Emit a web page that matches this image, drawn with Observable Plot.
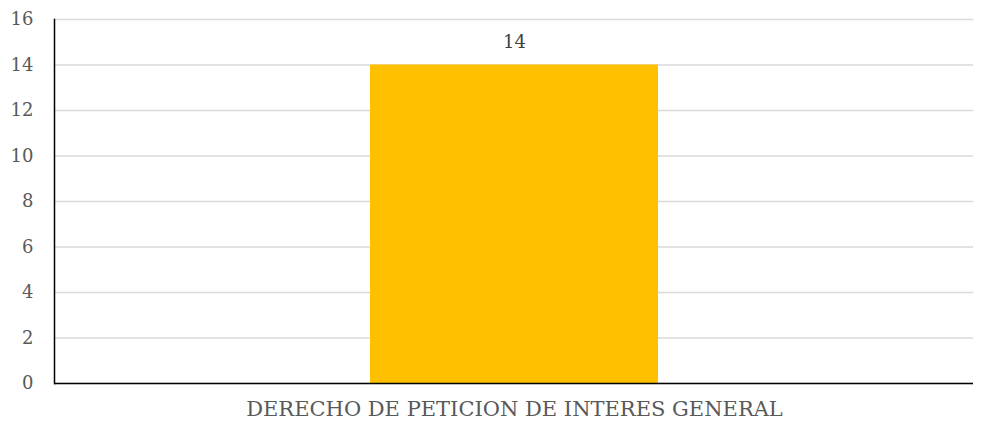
<!DOCTYPE html>
<html>
<head>
<meta charset="utf-8">
<script src="https://cdn.jsdelivr.net/npm/d3@7"></script>
<script src="https://cdn.jsdelivr.net/npm/@observablehq/plot@0.6"></script>
<style>
  html, body { margin: 0; padding: 0; background: #fff; }
  svg { display: block; }
  #chart svg, #chart svg text { font-family: "DejaVu Serif", "Liberation Serif", serif !important; }
</style>
</head>
<body>
<div id="chart"></div>
<script>
const categories = ["DERECHO DE PETICION DE INTERES GENERAL"];
const values = [14];
const yTicks = [0, 2, 4, 6, 8, 10, 12, 14, 16];

const data = categories.map((c, i) => ({category: c, value: values[i]}));

const chart = Plot.plot({
  width: 987,
  height: 426,
  marginLeft: 54,
  marginRight: 14,
  marginTop: 19,
  marginBottom: 43,
  style: {fontSize: "18px", color: "#595959", background: "#fff"},
  x: {domain: categories, padding: 0.5228, label: null},
  y: {domain: [0, 16], ticks: yTicks, label: null},
  marks: [
    Plot.gridY(yTicks, {stroke: "#d9d9d9", strokeOpacity: 1, strokeWidth: 1.5}),
    Plot.barY(data, {x: "category", y: "value", fill: "#ffc000"}),
    Plot.text(data, {x: "category", y: "value", text: d => String(d.value), dy: -23, fill: "#404040", fontSize: 18}),
    Plot.axisY(yTicks, {tickSize: 0, tickPadding: 21, fill: "#595959", fontSize: 18, label: null}),
    Plot.axisX({tickSize: 0, tickPadding: 18, fill: "#595959", fontSize: 21, label: null}),
    Plot.frame({anchor: "left", stroke: "#000", strokeWidth: 1.5}),
    Plot.ruleY([0], {stroke: "#000", strokeWidth: 1.5})
  ]
});
document.getElementById("chart").appendChild(chart);
</script>
</body>
</html>
